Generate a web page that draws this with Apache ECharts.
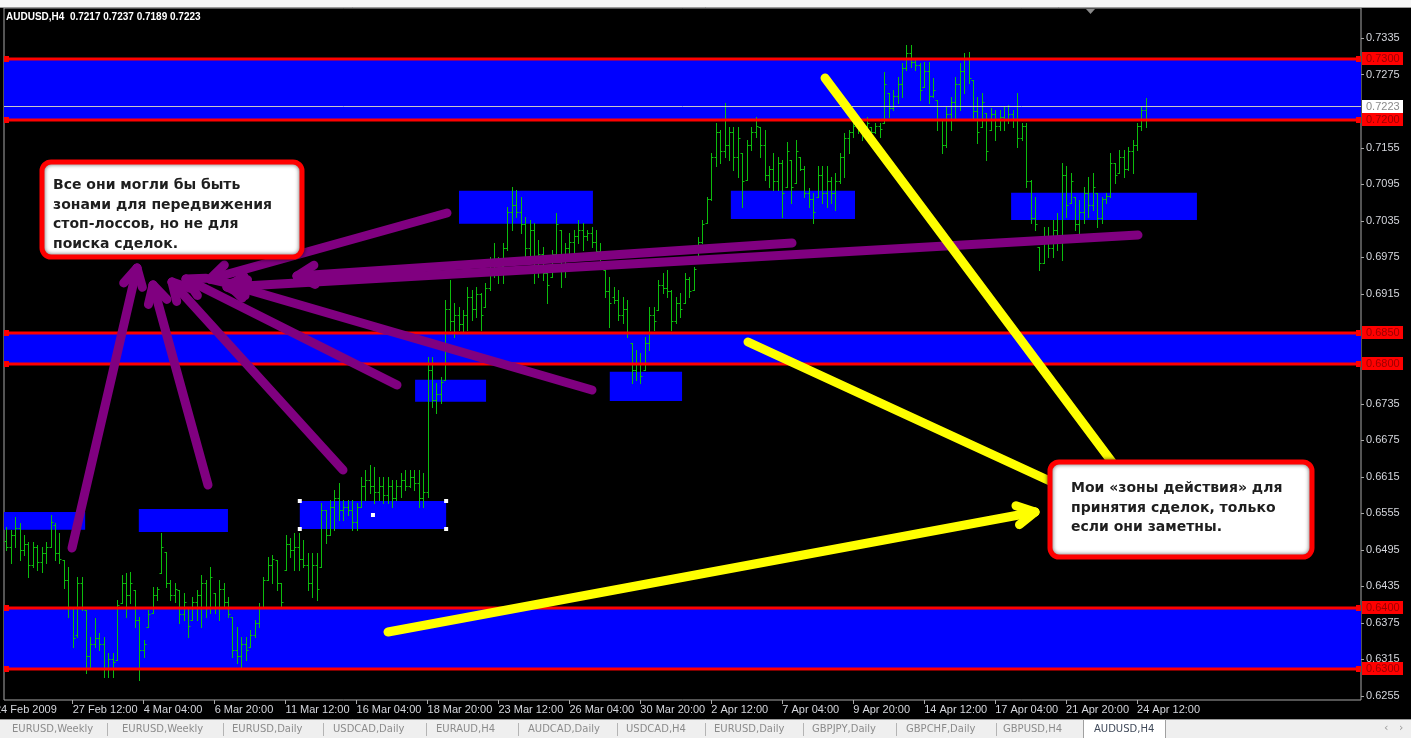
<!DOCTYPE html>
<html>
<head>
<meta charset="utf-8">
<title>AUDUSD,H4</title>
<script src="https://cdn.jsdelivr.net/npm/echarts@6/dist/echarts.min.js"></script>
<style>
  html, body { margin: 0; padding: 0; background: #000; }
  #chart { width: 1411px; height: 738px; }
</style>
</head>
<body>
<div id="chart"></div>
<script>
// H4 bars: [open, high, low, close] in points (1 point = 0.0001)
const bars = [
  [6510,6532,6495,6500],[6500,6528,6473,6520],[6520,6549,6500,6530],[6530,6539,6478,6495],[6495,6519,6487,6505],[6505,6508,6450,6470],
  [6470,6508,6467,6500],[6500,6503,6462,6475],[6475,6500,6459,6490],[6490,6508,6473,6500],[6500,6552,6500,6540],[6535,6539,6478,6490],
  [6490,6523,6473,6480],[6478,6478,6433,6445],[6445,6467,6385,6400],[6400,6401,6335,6350],[6355,6450,6352,6440],[6440,6450,6396,6400],
  [6396,6396,6293,6320],[6320,6352,6303,6340],[6340,6383,6335,6350],[6350,6358,6331,6340],[6340,6352,6286,6300],[6300,6326,6286,6315],
  [6315,6326,6286,6310],[6314,6413,6314,6405],[6408,6454,6408,6440],[6440,6457,6385,6420],[6420,6459,6408,6440],[6429,6429,6368,6380],
  [6380,6385,6281,6330],[6330,6347,6319,6340],[6368,6396,6368,6390],[6392,6434,6392,6420],[6420,6434,6413,6430],[6457,6523,6457,6500],
  [6491,6491,6434,6440],[6440,6446,6413,6420],[6420,6441,6410,6430],[6429,6429,6375,6390],[6390,6424,6380,6410],[6401,6401,6352,6370],
  [6380,6418,6380,6410],[6410,6429,6380,6420],[6420,6454,6368,6440],[6440,6446,6385,6400],[6400,6467,6392,6450],[6424,6424,6392,6400],
  [6400,6446,6380,6430],[6430,6441,6401,6410],[6410,6418,6385,6390],[6385,6385,6319,6330],[6330,6368,6309,6320],[6320,6352,6303,6340],
  [6340,6352,6314,6330],[6335,6364,6335,6355],[6355,6380,6352,6375],[6375,6408,6368,6400],[6401,6450,6401,6445],[6446,6483,6446,6470],
  [6470,6487,6441,6480],[6478,6478,6429,6440],[6440,6441,6401,6410],[6462,6519,6462,6505],[6505,6515,6483,6495],[6495,6523,6462,6500],
  [6500,6523,6462,6480],[6480,6511,6467,6470],[6470,6490,6429,6440],[6440,6490,6418,6470],[6470,6490,6413,6430],[6467,6572,6467,6560],
  [6560,6560,6506,6520],[6520,6577,6519,6565],[6565,6593,6528,6580],[6580,6605,6544,6560],[6560,6577,6544,6565],[6565,6577,6552,6560],
  [6560,6577,6528,6540],[6540,6572,6528,6565],[6565,6615,6565,6600],[6600,6626,6577,6610],[6610,6634,6588,6600],[6600,6631,6572,6590],
  [6590,6615,6577,6600],[6600,6615,6572,6585],[6585,6615,6572,6600],[6600,6610,6565,6580],[6580,6610,6577,6600],[6600,6621,6582,6610],
  [6610,6626,6593,6600],[6600,6626,6598,6615],[6615,6626,6593,6605],[6605,6626,6565,6580],[6580,6621,6565,6590],[6590,6811,6582,6790],
  [6790,6811,6729,6740],[6740,6769,6720,6750],[6750,6779,6736,6770],[6774,6905,6774,6890],[6890,6938,6856,6870],[6870,6900,6844,6880],
  [6880,6894,6856,6865],[6865,6889,6851,6880],[6880,6926,6856,6910],[6910,6921,6872,6890],[6890,6926,6877,6915],[6915,6916,6856,6880],
  [6894,6933,6894,6925],[6925,6976,6921,6965],[6965,6999,6943,6950],[6950,6976,6933,6960],[6960,6999,6933,6990],[6990,7058,6987,7050],
  [7050,7090,7020,7060],[7060,7085,7041,7050],[7050,7074,7015,7030],[7030,7041,6976,6990],[6990,7036,6976,7020],[7020,7031,6933,6960],
  [6960,7003,6943,6980],[6980,6992,6938,6950],[6950,6959,6900,6930],[6943,6987,6943,6980],[6980,7048,6976,7030],[7020,7020,6926,6960],
  [6960,6999,6943,6990],[6990,7015,6982,7000],[7000,7020,6976,7010],[7010,7036,6999,7020],[7020,7031,6987,7010],[7010,7020,7003,7015],
  [7015,7025,6992,7000],[7000,7020,6976,6985],[6985,6999,6971,6975],[6954,6954,6910,6920],[6920,6943,6861,6900],[6910,6926,6900,6905],
  [6905,6921,6872,6880],[6880,6910,6867,6890],[6890,6905,6844,6850],[6834,6834,6769,6790],[6790,6823,6774,6800],[6800,6818,6769,6780],
  [6790,6844,6790,6835],[6835,6894,6823,6880],[6880,6894,6856,6870],[6889,6938,6889,6930],[6930,6949,6916,6925],[6925,6954,6910,6920],
  [6920,6921,6856,6870],[6870,6910,6867,6900],[6900,6916,6877,6890],[6900,6949,6900,6940],[6940,6943,6910,6920],[6921,6959,6921,6955],
  [6966,7008,6966,7000],[7000,7036,6999,7030],[7031,7074,7031,7070],[7070,7146,7069,7140],[7140,7196,7124,7180],[7180,7184,7130,7150],
  [7150,7228,7140,7160],[7160,7189,7135,7180],[7180,7189,7118,7140],[7140,7189,7107,7170],[7146,7146,7058,7100],[7102,7168,7102,7160],
  [7160,7189,7151,7180],[7180,7205,7173,7190],[7189,7189,7140,7160],[7160,7184,7102,7110],[7110,7124,7090,7120],[7120,7146,7086,7100],
  [7100,7140,7086,7130],[7130,7135,7041,7080],[7090,7164,7090,7150],[7135,7135,7064,7090],[7097,7168,7097,7150],[7140,7140,7118,7120],
  [7120,7124,7074,7080],[7080,7089,7058,7070],[7070,7081,7031,7050],[7074,7124,7074,7110],[7110,7124,7064,7080],[7080,7124,7058,7100],
  [7100,7107,7064,7080],[7080,7113,7053,7100],[7100,7146,7097,7140],[7140,7179,7107,7170],[7170,7184,7146,7180],[7180,7196,7173,7190],
  [7190,7200,7179,7185],[7185,7196,7168,7190],[7190,7205,7184,7195],[7189,7189,7168,7180],[7180,7196,7179,7190],[7190,7196,7173,7185],
  [7196,7279,7196,7260],[7245,7245,7205,7220],[7220,7250,7217,7240],[7240,7271,7228,7260],[7260,7294,7238,7285],[7285,7324,7282,7310],
  [7310,7324,7287,7295],[7295,7299,7282,7290],[7290,7294,7233,7250],[7255,7296,7255,7280],[7280,7296,7228,7240],[7240,7269,7238,7250],
  [7233,7233,7184,7200],[7200,7200,7146,7160],[7160,7222,7156,7210],[7210,7238,7184,7230],[7230,7271,7200,7260],[7260,7294,7217,7280],
  [7280,7310,7245,7300],[7300,7312,7261,7270],[7266,7266,7200,7215],[7215,7238,7163,7180],[7189,7245,7189,7230],[7212,7212,7135,7150],
  [7184,7220,7184,7210],[7210,7217,7168,7190],[7190,7217,7184,7205],[7205,7222,7184,7200],[7200,7225,7195,7210],[7210,7217,7189,7200],
  [7200,7245,7156,7170],[7170,7196,7168,7190],[7190,7196,7090,7100],[7100,7102,7031,7040],[7040,7074,7020,7030],[6992,6992,6954,6965],
  [6966,7025,6966,7010],[7010,7025,6976,6990],[6990,7036,6976,7020],[7020,7048,6987,7000],[7000,7130,6971,7110],[7110,7124,7041,7060],
  [7064,7113,7064,7100],[7074,7074,7020,7030],[7030,7069,7015,7050],[7050,7090,7031,7080],[7080,7107,7041,7060],[7060,7113,7053,7090],
  [7081,7081,7025,7040],[7040,7074,7031,7070],[7070,7081,7064,7075],[7075,7146,7074,7130],[7130,7130,7097,7110],[7113,7151,7113,7140],
  [7140,7151,7107,7120],[7120,7156,7118,7150],[7150,7168,7113,7160],[7160,7196,7151,7190],[7190,7222,7184,7217],[7217,7237,7189,7223]
];

const symbolName = 'AUDUSD,H4';
const slotCount = 306;            // bar slots on screen incl. the empty shift area
const firstBarTime = Date.UTC(2009, 1, 25, 0);
const firstDateLabel = '24 Feb 2009';
const labelStep = 16;

// price scale ticks shown on the right
const priceTicks = [0.6255, 0.6315, 0.6375, 0.6435, 0.6495, 0.6555, 0.6615, 0.6675, 0.6735,
                    0.6915, 0.6975, 0.7035, 0.7095, 0.7155, 0.7275, 0.7335];
const priceMin = 0.62484;
const priceMax = 0.73841;

// red horizontal levels and the wide blue zones between them
const levels = [0.7300, 0.7200, 0.6850, 0.6800, 0.6400, 0.6300];
const bandLow = [0.7200, 0.6800, 0.6300];
const bandHigh = [0.7300, 0.6850, 0.6400];
const lastPrice = 0.7223;

// small blue rectangles (bar index from/to, price top/bottom)
const zoneFrom = [-0.5, 29.9, 66.2, 92.2, 102.1, 136.1, 163.4, 226.6];
const zoneTo = [17.8, 50.0, 99.2, 108.2, 132.3, 152.4, 191.4, 268.5];
const zoneTop = [0.6557, 0.6562, 0.6575, 0.6774, 0.7084, 0.6787, 0.7084, 0.7081];
const zoneBottom = [0.6528, 0.6524, 0.6529, 0.6738, 0.7030, 0.6739, 0.7038, 0.7036];
const selectedZone = 2;

const tabs = ['EURUSD,Weekly', 'EURUSD,Weekly', 'EURUSD,Daily', 'USDCAD,Daily', 'EURAUD,H4', 'AUDCAD,Daily',
              'USDCAD,H4', 'EURUSD,Daily', 'GBPJPY,Daily', 'GBPCHF,Daily', 'GBPUSD,H4', 'AUDUSD,H4'];

const noteLeft = ['Все они могли бы быть', 'зонами для передвижения', 'стоп-лоссов, но не для', 'поиска сделок.'];
const noteRight = ['Мои «зоны действия» для', 'принятия сделок, только', 'если они заметны.'];

const barColor = '#0cbc0c';
const axisText = '#d4d6dc';

// ---- time slots (H4, Mon..Fri) ----
const months = ['Jan', 'Feb', 'Mar', 'Apr', 'May', 'Jun', 'Jul', 'Aug', 'Sep', 'Oct', 'Nov', 'Dec'];
const slotTimes = [];
for (let t = firstBarTime; slotTimes.length < slotCount; t += 4 * 3600 * 1000) {
  const d = new Date(t);
  const wd = d.getUTCDay();
  if (wd !== 0 && wd !== 6) slotTimes.push(d);
}
const pad = n => (n < 10 ? '0' : '') + n;
const timeLabel = d => d.getUTCDate() + ' ' + months[d.getUTCMonth()] + ' ' + pad(d.getUTCHours()) + ':00';
const labelIdx = [];
for (let i = labelStep - 1; i < bars.length; i += labelStep) labelIdx.push(i);

const barData = bars.map((b, i) => [i, b[0] / 1e4, b[1] / 1e4, b[2] / 1e4, b[3] / 1e4]);
const zoneData = zoneFrom.map((f, k) => [f, zoneTo[k], zoneTop[k], zoneBottom[k]]);
const bandData = bandLow.map((lo, k) => [-0.5, slotCount - 0.5, bandHigh[k], lo]);

function rectItem(params, api) {
  const p1 = api.coord([api.value(0), api.value(2)]);
  const p2 = api.coord([api.value(1), api.value(3)]);
  const rect = { type: 'rect', shape: { x: p1[0], y: p1[1], width: p2[0] - p1[0], height: p2[1] - p1[1] }, style: { fill: '#0000ff' } };
  if (params.seriesName !== 'zones' || params.dataIndex !== selectedZone) return rect;
  const dots = [[p1[0], p1[1]], [p1[0], p2[1]], [p2[0], p1[1]], [p2[0], p2[1]], [(p1[0] + p2[0]) / 2, (p1[1] + p2[1]) / 2]];
  return {
    type: 'group',
    children: [rect].concat(dots.map(d => ({
      type: 'rect', shape: { x: d[0] - 2, y: d[1] - 2, width: 4, height: 4 }, style: { fill: '#ffffff' }
    })))
  };
}

function ohlcItem(params, api) {
  const i = api.value(0);
  const x = Math.round(api.coord([i, priceMin])[0]) + 0.5;
  const y = v => Math.round(api.coord([i, v])[1]) + 0.5;
  const yo = y(api.value(1)), yh = y(api.value(2)), yl = y(api.value(3)), yc = y(api.value(4));
  const st = { stroke: barColor, lineWidth: 1 };
  return {
    type: 'group',
    children: [
      { type: 'line', shape: { x1: x, y1: yh - 0.5, x2: x, y2: yl + 0.5 }, style: st },
      { type: 'line', shape: { x1: x - 2, y1: yo, x2: x, y2: yo }, style: st },
      { type: 'line', shape: { x1: x, y1: yc, x2: x + 2, y2: yc }, style: st }
    ]
  };
}

// horizontal price lines with their price tag on the scale
function levelItem(params, api) {
  const cs = params.coordSys;
  const v = api.value(0);
  const red = params.seriesName === 'levels';
  const y = Math.round(api.coord([0, v])[1]) + (red ? 0 : 0.5);
  const right = cs.x + cs.width;
  const kids = [
    { type: 'line', shape: { x1: cs.x, y1: y, x2: right, y2: y },
      style: { stroke: red ? '#ff0000' : '#c8c8c8', lineWidth: red ? 3 : 1 } },
    { type: 'rect', shape: { x: right + 1, y: Math.round(y) - 7, width: 41, height: 13 },
      style: { fill: red ? '#ff0000' : '#ffffff' } },
    { type: 'text', style: { x: right + 5, y: Math.round(y), text: v.toFixed(4), verticalAlign: 'middle',
      fill: red ? '#9a0000' : '#8a8a8a', font: '11px "Liberation Sans"' } }
  ];
  if (red) {
    kids.push({ type: 'rect', shape: { x: cs.x, y: y - 3, width: 5, height: 6 }, style: { fill: '#ff0000' } });
    kids.push({ type: 'rect', shape: { x: right - 5, y: y - 3, width: 5, height: 6 }, style: { fill: '#ff0000' } });
  }
  return { type: 'group', children: kids };
}

function scaleTickItem(params, api) {
  const cs = params.coordSys;
  const y = Math.round(api.coord([0, api.value(0)])[1]) + 0.5;
  const x = cs.x + cs.width;
  return { type: 'line', shape: { x1: x, y1: y, x2: x + 3, y2: y }, style: { stroke: '#a8a8a8', lineWidth: 1 } };
}

// ---- hand-drawn annotations (screen space) ----
const purpleArrows = [
  [[72, 548], [137, 268]], [[208, 485], [153, 285]], [[343, 470], [172, 282]], [[397, 385], [186, 279]],
  [[592, 390], [228, 284]], [[447, 213], [210, 279]], [[792, 243], [297, 276]], [[1138, 235], [227, 287]]
];
const yellowArrows = [
  [[825, 78], [1112, 462], false], [[748, 342], [1052, 482], false], [[388, 632], [1035, 512], true]
];

function arrow(tail, head, color, withHead) {
  const st = { stroke: color, lineWidth: 9, lineCap: 'round' };
  const els = [{ type: 'line', z: 110, shape: { x1: tail[0], y1: tail[1], x2: head[0], y2: head[1] }, style: st }];
  if (withHead) {
    const a = Math.atan2(tail[1] - head[1], tail[0] - head[0]);
    [-0.5, 0.5].forEach(s => {
      els.push({ type: 'line', z: 110,
        shape: { x1: head[0], y1: head[1], x2: head[0] + 20 * Math.cos(a + s), y2: head[1] + 20 * Math.sin(a + s) },
        style: st });
    });
  }
  return els;
}

function note(x, y, w, h, padX, padY, lines) {
  return [
    { type: 'rect', z: 120, shape: { x: x, y: y, width: w, height: h, r: 9 },
      style: { fill: '#ffffff', stroke: '#ff0000', lineWidth: 5, shadowBlur: 4, shadowColor: 'rgba(0,0,0,0.6)' } },
    { type: 'text', z: 121,
      style: { x: x + padX, y: y + padY, text: lines.join('\n'), fill: '#1e1e1e', lineHeight: 19.5,
               font: 'bold 14px "DejaVu Sans"' } }
  ];
}

const tabStarts = [12, 122, 232, 333, 436, 528, 626, 714, 812, 906, 1003, 1094];
const tabSeps = [107, 223, 323, 426, 518, 617, 705, 803, 896, 996];

const overlay = [];
// window strip on top
overlay.push({ type: 'rect', z: 90, shape: { x: 0, y: 0, width: 1411, height: 7 }, style: { fill: '#f6f6f6' } });
overlay.push({ type: 'line', z: 90, shape: { x1: 0, y1: 7.5, x2: 1411, y2: 7.5 }, style: { stroke: '#9a9a9a', lineWidth: 1 } });
overlay.push({ type: 'polygon', z: 95, shape: { points: [[1086, 9], [1095, 9], [1090.5, 14]] }, style: { fill: '#8a8a8a' } });
overlay.push({ type: 'text', z: 95, style: { x: 6, y: 12, text: symbolName + '  ' + bars[bars.length - 1].map(v => (v / 1e4).toFixed(4)).join(' '),
  fill: '#ffffff', font: 'bold 10px "Liberation Sans"' } });
overlay.push({ type: 'text', z: 95, style: { x: -5, y: 704, text: firstDateLabel, fill: axisText, font: '11px "Liberation Sans"' } });

purpleArrows.forEach(a => arrow(a[0], a[1], '#800080', true).forEach(e => overlay.push(e)));
yellowArrows.forEach(a => arrow(a[0], a[1], '#ffff00', a[2]).forEach(e => overlay.push(e)));
note(42, 162, 260, 95, 11, 14, noteLeft).forEach(e => overlay.push(e));
note(1050, 462, 262, 95, 21, 17, noteRight).forEach(e => overlay.push(e));

// tab bar
overlay.push({ type: 'rect', z: 90, shape: { x: 0, y: 719, width: 1411, height: 19 }, style: { fill: '#efefef' } });
overlay.push({ type: 'line', z: 90, shape: { x1: 0, y1: 719.5, x2: 1411, y2: 719.5 }, style: { stroke: '#9a9a9a', lineWidth: 1 } });
tabSeps.forEach(x => overlay.push({ type: 'line', z: 91, shape: { x1: x + 0.5, y1: 723, x2: x + 0.5, y2: 736 }, style: { stroke: '#b4b4b4', lineWidth: 1 } }));
overlay.push({ type: 'rect', z: 91, shape: { x: 1083.5, y: 719.5, width: 82, height: 19 }, style: { fill: '#ffffff', stroke: '#a0a0a0', lineWidth: 1 } });
tabs.forEach((t, k) => overlay.push({ type: 'text', z: 92,
  style: { x: tabStarts[k], y: 724, text: t, fill: k === tabs.length - 1 ? '#404a5a' : '#8c8c8c', font: '10px "DejaVu Sans"' } }));
overlay.push({ type: 'text', z: 92, style: { x: 1384, y: 723, text: '‹', fill: '#9a9a9a', font: '11px "DejaVu Sans"' } });
overlay.push({ type: 'text', z: 92, style: { x: 1399, y: 723, text: '›', fill: '#9a9a9a', font: '11px "DejaVu Sans"' } });

const chart = echarts.init(document.getElementById('chart'));
chart.setOption({
  backgroundColor: '#000000',
  animation: false,
  grid: { left: 4, right: 50, top: 8, bottom: 38, show: true, borderColor: '#a8a8a8', borderWidth: 1, backgroundColor: '#000000' },
  xAxis: {
    type: 'value', min: -0.5, max: slotCount - 0.5,
    axisLine: { show: false },
    splitLine: { show: false },
    axisTick: { show: true, customValues: labelIdx, length: 4, lineStyle: { color: '#a8a8a8' } },
    axisLabel: {
      customValues: labelIdx, align: 'left', margin: 4, color: axisText,
      fontFamily: 'Liberation Sans', fontSize: 11,
      formatter: v => timeLabel(slotTimes[Math.round(v)])
    }
  },
  yAxis: {
    type: 'value', position: 'right', min: priceMin, max: priceMax, scale: true,
    axisLine: { show: false },
    splitLine: { show: false },
    axisTick: { show: false },
    axisLabel: {
      customValues: priceTicks, margin: 5, color: axisText,
      fontFamily: 'Liberation Sans', fontSize: 11,
      formatter: v => v.toFixed(4)
    }
  },
  graphic: { elements: overlay },
  series: [
    { name: 'bands', type: 'custom', z: 1, clip: true, renderItem: rectItem, data: bandData,
      encode: { x: [0, 1], y: [2, 3] }, silent: true },
    { name: 'zones', type: 'custom', z: 2, clip: true, renderItem: rectItem, data: zoneData,
      encode: { x: [0, 1], y: [2, 3] }, silent: true },
    { name: 'AUDUSD', type: 'custom', z: 3, clip: true, renderItem: ohlcItem, data: barData,
      encode: { x: 0, y: [1, 2, 3, 4] }, silent: true },
    { name: 'scaleTicks', type: 'custom', z: 3, clip: false, renderItem: scaleTickItem,
      data: priceTicks.map(v => [v]), encode: { y: 0 }, silent: true },
    { name: 'last', type: 'custom', z: 4, clip: false, renderItem: levelItem,
      data: [[lastPrice]], encode: { y: 0 }, silent: true },
    { name: 'levels', type: 'custom', z: 5, clip: false, renderItem: levelItem,
      data: levels.map(v => [v]), encode: { y: 0 }, silent: true }
  ]
});
</script>
</body>
</html>
